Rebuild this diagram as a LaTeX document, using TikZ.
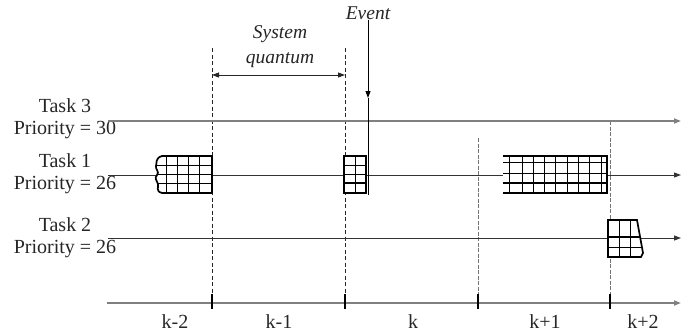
\documentclass[tikz,border=0pt]{standalone}
\usepackage{fontspec}
\setmainfont{Liberation Serif}
\usetikzlibrary{arrows.meta}
\begin{document}
\begin{tikzpicture}[x=1pt,y=-1pt,
  lbl/.style={font=\fontsize{20}{22}\selectfont, inner sep=0pt, align=center, text=black!85},
  ital/.style={font=\fontsize{19.5}{25}\selectfont\itshape, inner sep=0pt, align=center, text=black!85},
  tip/.style={-{Triangle[length=7pt,width=5pt]}},
  taskline/.style={draw=black!80, line width=0.9pt, tip},
  grayline/.style={draw=black!50, line width=1.6pt, tip},
  dashv/.style={draw=black!85, line width=0.8pt, dash pattern=on 4pt off 2.5pt},
  dashg/.style={draw=black!55, line width=1pt, dash pattern=on 4pt off 1.5pt},
  border/.style={draw=black, line width=1.7pt},
  thin/.style={draw=black, line width=0.9pt},
  thick/.style={draw=black, line width=2pt},
  tick/.style={draw=black, line width=2.4pt}
]
\useasboundingbox (0,0) rectangle (692,333);

% ---- labels on the left
\node[lbl] (t3) at (65,119) {Task 3\\Priority = 30};
\node[lbl] (t1) at (65,174) {Task 1\\Priority = 26};
\node[lbl] (t2) at (65,237.5) {Task 2\\Priority = 26};

% ---- coordinates
\coordinate (t3s) at (108,121); \coordinate (t3e) at (681,121);
\coordinate (t1s) at (108,175); \coordinate (t1e) at (681,175);
\coordinate (t2s) at (108,238); \coordinate (t2e) at (681,238);
\coordinate (axs) at (107,303); \coordinate (axe) at (681,303);

% ---- vertical dashed lines
\coordinate (d1t) at (212,48);  \coordinate (d1b) at (212,300);
\coordinate (d2t) at (345,48);  \coordinate (d2b) at (345,300);
\coordinate (d3t) at (478,138); \coordinate (d3b) at (478,300);
\coordinate (d4t) at (610,121); \coordinate (d4b) at (610,300);
\draw[dashv] (d1t) -- (d1b);
\draw[dashv] (d2t) -- (d2b);
\draw[dashg] (d3t) -- (d3b);
\draw[dashg] (d4t) -- (d4b);

% ---- task lines and axis
\draw[grayline] (t3s) -- (t3e);
\draw[taskline] (t1s) -- (t1e);
\draw[taskline] (t2s) -- (t2e);
\draw[grayline] (axs) -- (axe);

% ---- ticks
\foreach \x in {212,345,478,610} \draw[tick] (\x,294) -- (\x,309);

% ---- axis labels
\node[lbl] (km2) at (175,322) {k-2};
\node[lbl] (km1) at (279,322) {k-1};
\node[lbl] (k0)  at (413,322) {k};
\node[lbl] (kp1) at (545,322) {k+1};
\node[lbl] (kp2) at (643,322) {k+2};

% ---- system quantum
\node[ital] (sq) at (280,47) {System\\quantum};
\coordinate (q1) at (212,75); \coordinate (q2) at (345,75);
\draw[draw=black!85, line width=0.9pt, {Triangle[length=7pt,width=5pt]}-{Triangle[length=7pt,width=5pt]}] (q1) -- (q2);

% ---- event
\node[ital] (ev) at (368,13) {Event};
\coordinate (evm) at (368,98); \coordinate (eve) at (368,195);
\draw[draw=black, line width=0.9pt, tip] (ev.south) -- (evm);
\draw[draw=black, line width=0.9pt] (evm) -- (eve);

% ---- block A (Task 1, wavy left edge)
\def\pathA{(162,156) -- (212,156) -- (212,193) -- (162,193)
  .. controls (155,191) and (159,187) .. (158,184)
  .. controls (157,181) and (154,178) .. (157,175)
  .. controls (160,172) and (155,169) .. (156,166)
  .. controls (157,163) and (155,158) .. (162,156) -- cycle}
\fill[white] \pathA;
\begin{scope}
  \clip \pathA;
  \foreach \x in {166,177,188,199} \draw[thin] (\x,150) -- (\x,200);
  \foreach \y in {165.3,174.5,183.8} \draw[thin] (150,\y) -- (215,\y);
\end{scope}
\draw[border, line join=round] \pathA;

% ---- block B
\fill[white] (344,156) rectangle (366,193);
\draw[thin] (355,156) -- (355,193);
\draw[thin] (344,165) -- (366,165);
\draw[thin] (344,174) -- (366,174);
\draw[thick] (344,183) -- (366,183);
\draw[border] (344,156) rectangle (366,193);

% ---- block C
\fill[white] (503,156) rectangle (607,193);
\foreach \x in {509,522,533,544,555,567,578,589,601} \draw[thin] (\x,156) -- (\x,193);
\draw[thin] (503,162) -- (607,162);
\draw[thin] (503,173) -- (607,173);
\draw[thick] (503,183) -- (607,183);
\draw[border] (503,156) -- (607,156) -- (607,193) -- (503,193);

% ---- block D (Task 2)
\def\pathD{(608,220) -- (637,220) -- (643,253) -- (641,257) -- (608,257) -- cycle}
\fill[white] \pathD;
\begin{scope}
  \clip \pathD;
  \foreach \x in {619,630} \draw[thin] (\x,215) -- (\x,260);
  \draw[thick] (600,237) -- (650,237);
  \draw[thin] (600,247) -- (650,247);
\end{scope}
\draw[border] \pathD;
\end{tikzpicture}
\end{document}
